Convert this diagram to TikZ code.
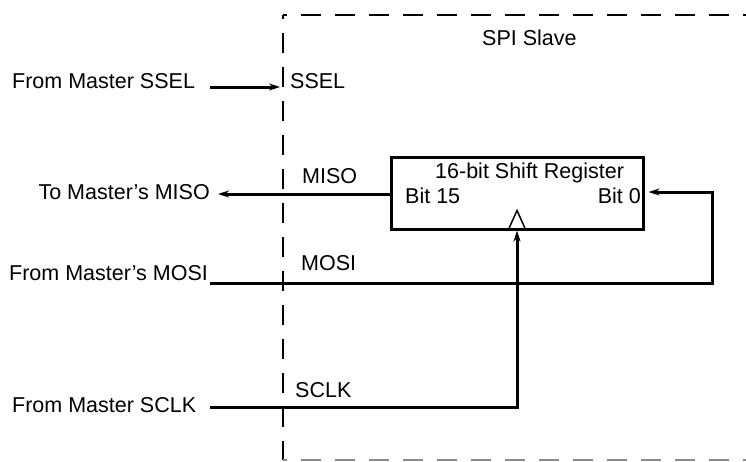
\documentclass[tikz,border=0pt]{standalone}
\usepackage{fontspec}
\setmainfont{Liberation Sans}
\usetikzlibrary{arrows.meta}
\begin{document}
\begin{tikzpicture}[x=1pt,y=-1pt,
  lbl/.style={font=\fontsize{21.5}{24}\selectfont, inner sep=0pt},
  wire/.style={line width=3pt},
  tip/.style={-{Stealth[length=11pt,width=7pt]}},
  slavebox/.style={line width=1.5pt, dash pattern=on 20pt off 14pt, dash phase=16pt},
  regbox/.style={draw, line width=3pt, minimum width=252pt, minimum height=72pt, inner sep=0pt}]
\useasboundingbox (0,0) rectangle (746,461);
% dashed SPI slave boundary
\draw[slavebox] (283,15) -- (790,15);
\draw[slavebox] (283,15) -- (283,460);
\draw[slavebox, draw=black!45] (283,460) -- (790,460);
\node[lbl, anchor=base west] (title) at (482,45) {SPI Slave};

% shift register
\node[regbox] (reg) at (517,193) {};
\node[lbl, anchor=base west] (regname) at (435,178) {16-bit Shift Register};
\node[lbl, anchor=base west] (b15) at (405,203) {Bit 15};
\node[lbl, anchor=base east] (b0) at (641,203) {Bit 0};
\draw[line width=1.5pt] ([xshift=-9pt]reg.south) -- ([yshift=20pt]reg.south) -- ([xshift=9pt]reg.south);

% external labels
\node[lbl, anchor=base west] (tssel) at (12,88) {From Master SSEL};
\node[lbl, anchor=base east] (tmiso) at (210,199) {To Master’s MISO};
\node[lbl, anchor=base west] (tmosi) at (9,280) {From Master’s MOSI};
\node[lbl, anchor=base west] (tsclk) at (12,412) {From Master SCLK};

% internal labels
\node[lbl, anchor=base west] (lssel) at (290,88) {SSEL};
\node[lbl, anchor=base west] (lmiso) at (302,183) {MISO};
\node[lbl, anchor=base west] (lmosi) at (301,270) {MOSI};
\node[lbl, anchor=base west] (lsclk) at (295,397) {SCLK};

% connector end points
\coordinate (sselIn) at (210,87);
\coordinate (sselOut) at (280,87);
\coordinate (misoOut) at (218,194);
\coordinate (mosiIn) at (210,283);
\coordinate (mosiTurn) at (712,192);
\coordinate (sclkIn) at (210,407);

% connectors
\draw[wire,tip] (sselIn) -- (sselOut);
\draw[wire,tip] (reg.west |- misoOut) -- (misoOut);
\draw[wire,tip] (mosiIn) -| (mosiTurn) -- ([xshift=4pt]reg.east |- mosiTurn);
\draw[wire,tip] (sclkIn) -| (reg.south);
\end{tikzpicture}
\end{document}
